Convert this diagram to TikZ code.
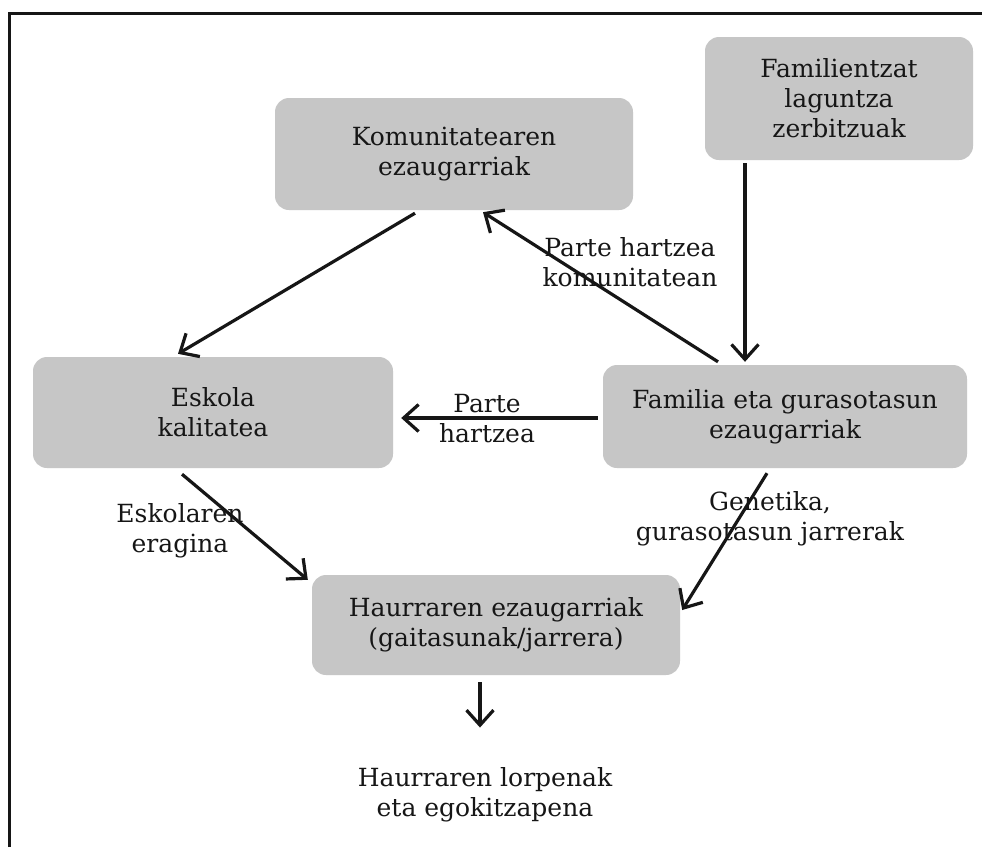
\documentclass[tikz,border=0pt]{standalone}
\usepackage{fontspec}
\setmainfont{DejaVu Serif}
\usetikzlibrary{arrows.meta}
\definecolor{boxgray}{RGB}{198,198,198}
\definecolor{inkc}{RGB}{22,22,22}
\begin{document}
\begin{tikzpicture}[x=1pt,y=-1pt,
  box/.style={fill=boxgray, rounded corners=14pt, align=center, inner sep=0pt,
    font=\fontsize{25}{30}\selectfont, text=inkc},
  lbl/.style={align=center, inner sep=0pt, font=\fontsize{25}{30}\selectfont, text=inkc},
  conn/.style={line width=3.2pt, draw=inkc, -{Straight Barb[length=15pt,width=27pt,line width=3.2pt]}}]
\useasboundingbox (0,0) rectangle (982,847);
\fill[white] (0,0) rectangle (982,847);
\draw[line width=3pt, inkc] (9.5,847) -- (9.5,13.5) -- (982,13.5);

\node[box, minimum width=358pt, minimum height=112pt] (komu) at (454,154) {Komunitatearen\\ezaugarriak};
\node[box, minimum width=268pt, minimum height=123pt] (servs) at (839,98.5) {Familientzat\\laguntza\\zerbitzuak};
\node[box, minimum width=360pt, minimum height=111pt] (esk) at (213,412.5) {Eskola\\kalitatea};
\node[box, minimum width=364pt, minimum height=103pt] (fam) at (785,416.5) {Familia eta gurasotasun\\ezaugarriak};
\node[box, minimum width=368pt, minimum height=100pt] (haur) at (496,625) {Haurraren ezaugarriak\\(gaitasunak/jarrera)};
\node[lbl] (res) at (485,795) {Haurraren lorpenak\\eta egokitzapena};

\coordinate (fw) at ([xshift=-5pt,yshift=-1.5pt]fam.west);
\draw[conn] ([xshift=-39pt,yshift=-3pt]komu.south) -- ([xshift=-35pt,yshift=3pt]esk.north);
\draw[conn] ([xshift=-67pt,yshift=3pt]fam.north) -- ([xshift=29pt,yshift=-2pt]komu.south);
\draw[conn] ([xshift=-94pt,yshift=-3pt]servs.south) -- ([xshift=-40pt,yshift=3pt]fam.north);
\draw[conn] (fw) -- ([xshift=8pt]esk.east |- fw);
\draw[conn] ([xshift=-31pt,yshift=-6pt]esk.south) -- ([xshift=-4pt,yshift=-5pt]haur.north west);
\draw[conn] ([xshift=-18pt,yshift=-5pt]fam.south) -- ([xshift=2pt,yshift=15pt]haur.east);
\draw[conn] ([xshift=-16pt,yshift=-7pt]haur.south) -- ([xshift=-5pt,yshift=40pt]res.north);

\node[lbl] (l1) at (630,262.5) {Parte hartzea\\komunitatean};
\node[lbl] (l2) at (487,419) {Parte\\hartzea};
\node[lbl] (l3) at (180,531) {Eskolaren\\eragina};
\node[lbl] (l4) at (770,518.5) {Genetika,\\gurasotasun jarrerak};
\end{tikzpicture}
\end{document}
